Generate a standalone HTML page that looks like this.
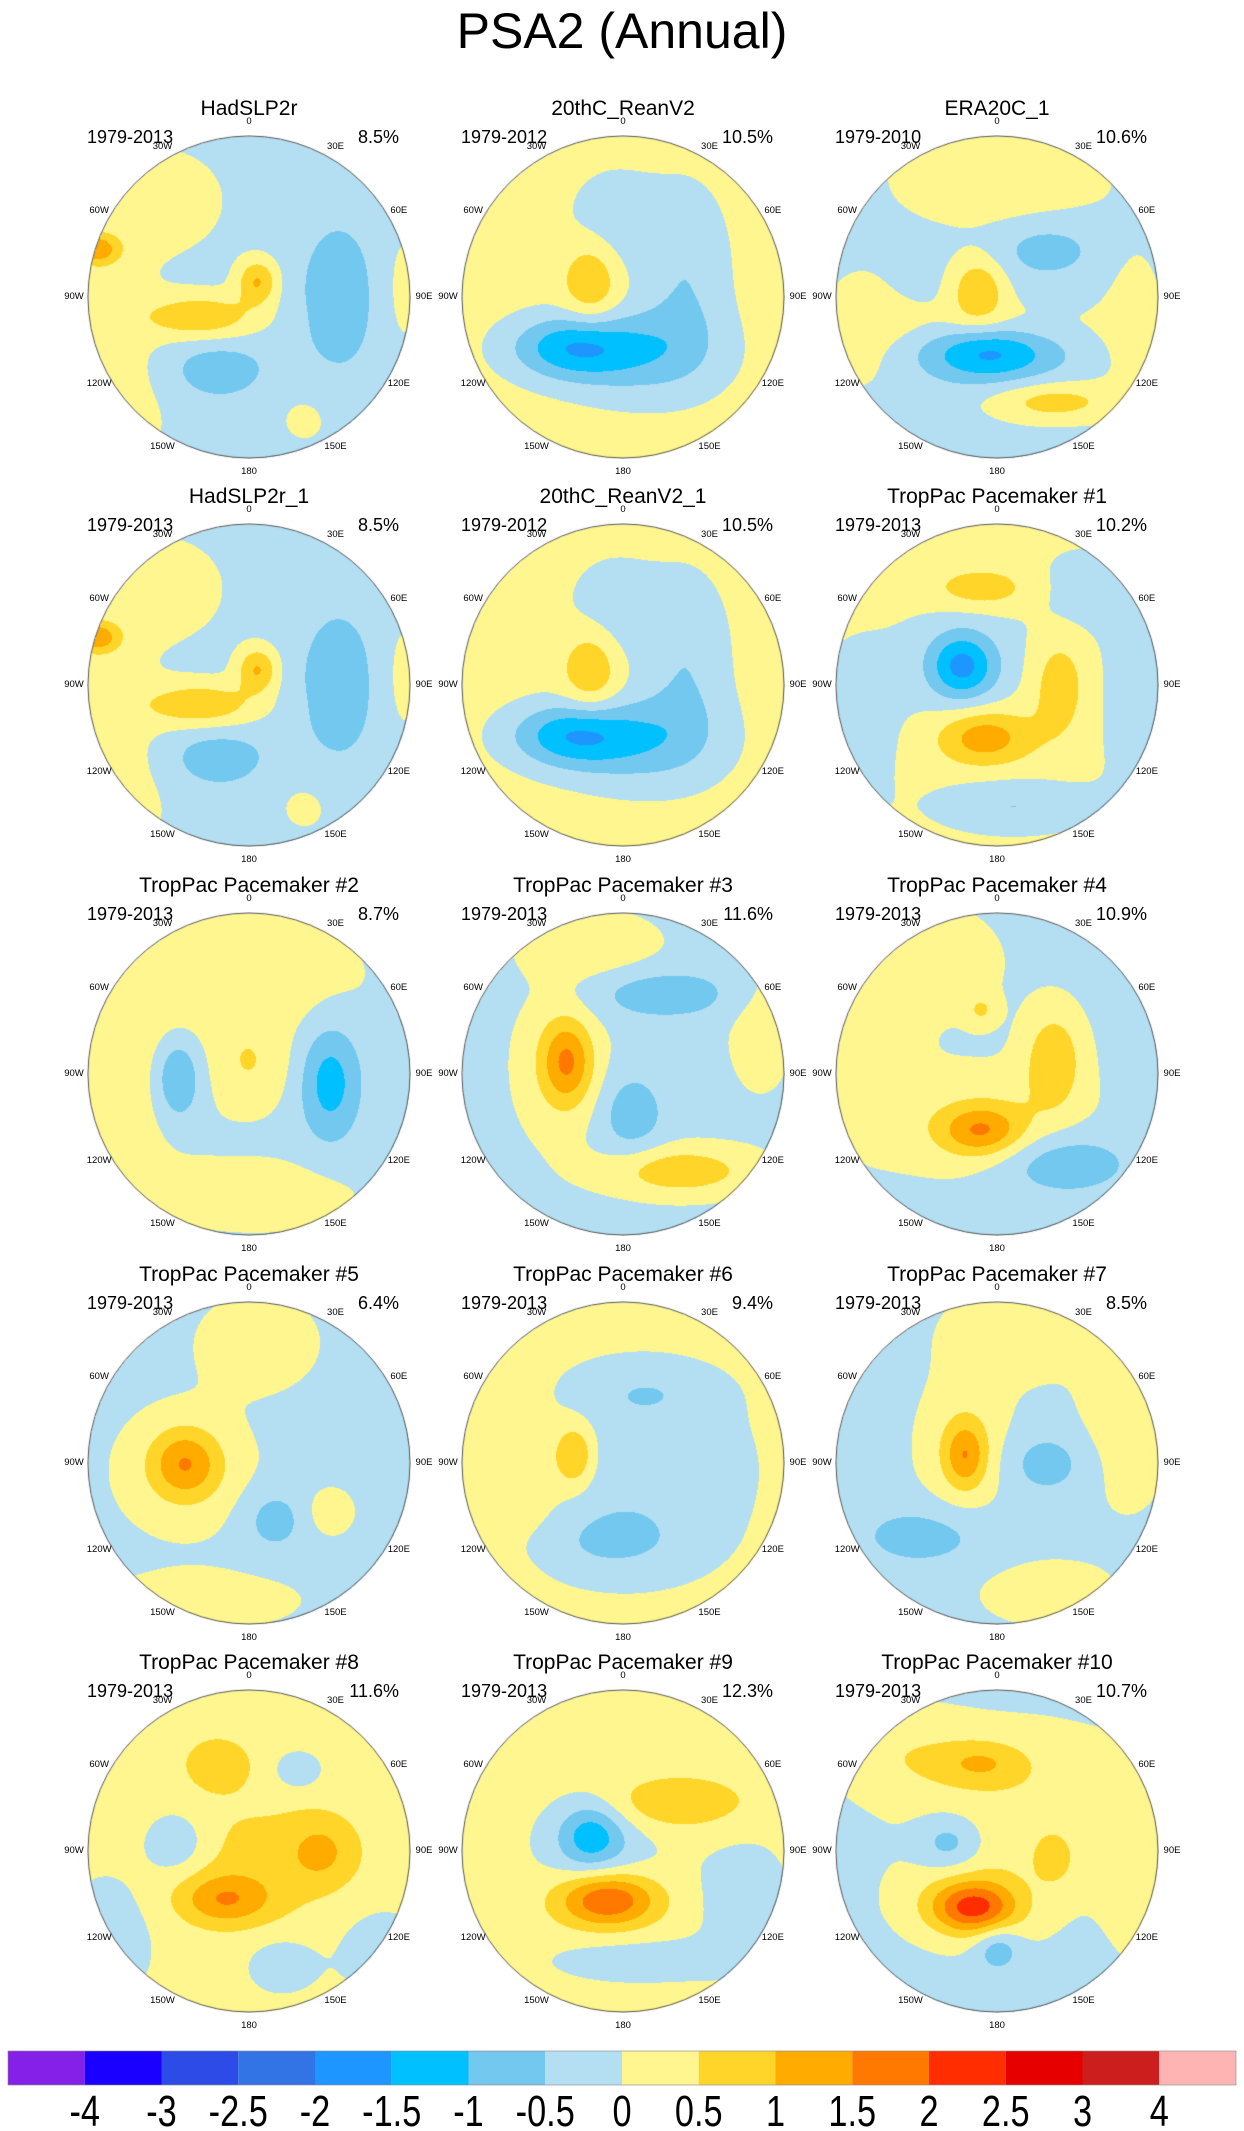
<!DOCTYPE html>
<html><head><meta charset="utf-8">
<style>
html,body{margin:0;padding:0;background:#fff;}
body{width:1244px;height:2131px;position:relative;overflow:hidden;font-family:"Liberation Sans",sans-serif;}
.t{position:absolute;white-space:nowrap;color:#000;}
canvas{position:absolute;}
</style></head>
<body>
<div class="t" style="left:0;width:1244px;text-align:center;top:2px;font-size:50px;">PSA2 (Annual)</div>
<div id="root"></div>
<svg id="cb" width="1244" height="131" style="position:absolute;left:0;top:2000px"></svg>
<script>
const panelTitles=["HadSLP2r","20thC_ReanV2","ERA20C_1","HadSLP2r_1","20thC_ReanV2_1","TropPac Pacemaker #1","TropPac Pacemaker #2","TropPac Pacemaker #3","TropPac Pacemaker #4","TropPac Pacemaker #5","TropPac Pacemaker #6","TropPac Pacemaker #7","TropPac Pacemaker #8","TropPac Pacemaker #9","TropPac Pacemaker #10"];
const panelYears=["1979-2013","1979-2012","1979-2010","1979-2013","1979-2012","1979-2013","1979-2013","1979-2013","1979-2013","1979-2013","1979-2013","1979-2013","1979-2013","1979-2013","1979-2013"];
const panelPct=["8.5%","10.5%","10.6%","8.5%","10.5%","10.2%","8.7%","11.6%","10.9%","6.4%","9.4%","8.5%","11.6%","12.3%","10.7%"];
const panelBase=[-0.2,0.2,-0.2,-0.2,0.2,0.2,-0.15,-0.15,-0.15,-0.15,0.2,-0.15,0.15,0.2,-0.15];
// blobs: [u, v, amplitude, sx, sy]
const P1=[[-0.55,-0.6,0.45,0.3,0.25],[-0.85,0.1,0.35,0.2,0.35],[-0.3,0.12,1.1,0.25,0.1],[0.05,-0.1,1.2,0.09,0.1],[0.55,0,-0.6,0.18,0.35],[-0.2,0.45,-0.6,0.22,0.13],[-0.85,0.75,0.4,0.25,0.3],[0.35,0.75,0.3,0.15,0.15],[0.95,-0.05,0.35,0.1,0.3],[-0.95,-0.3,1.4,0.1,0.07]];
const P2=[[-0.31,0.31,-1.5,0.28,0.14],[0.4,-0.2,-0.6,0.18,0.35],[0.1,0.4,-0.6,0.35,0.2],[-0.05,-0.45,-0.5,0.22,0.25],[-0.2,-0.1,0.9,0.12,0.18],[0.3,0.25,-0.4,0.25,0.2]];
const P3=[[0,-0.75,0.5,0.5,0.25],[-0.12,-0.05,1.1,0.12,0.14],[-0.05,0.35,-1.4,0.28,0.12],[0.3,-0.3,-0.6,0.22,0.12],[-0.1,0.15,0.35,0.6,0.1],[0.35,0.65,0.9,0.28,0.09],[-0.85,0.2,0.4,0.2,0.3],[0.85,0.2,0.4,0.15,0.4]];
const P6=[[-0.22,-0.12,-1.4,0.14,0.14],[-0.2,-0.15,-0.5,0.33,0.28],[-0.08,0.32,1.2,0.2,0.12],[-0.1,-0.6,0.7,0.22,0.09],[0.38,0,0.7,0.12,0.22],[0.1,0.75,-0.7,0.35,0.12],[0.9,0.1,-0.5,0.2,0.5],[0.5,-0.6,-0.4,0.2,0.2],[-0.9,0.3,-0.5,0.2,0.4]];
const P7=[[-0.1,-0.6,0.6,0.5,0.25],[-0.7,0,0.5,0.25,0.5],[-0.45,0.02,-1.1,0.11,0.2],[0.5,0.05,-1.1,0.13,0.25],[0,-0.05,0.6,0.18,0.2],[0.05,0.75,0.5,0.4,0.15]];
const P8=[[-0.35,-0.08,1.3,0.11,0.18],[-0.4,-0.05,0.5,0.2,0.35],[0.25,-0.5,-0.7,0.33,0.11],[0.05,0.25,-0.7,0.14,0.18],[0.35,0.6,1.0,0.33,0.11],[-0.2,-0.8,0.5,0.3,0.15],[0.85,-0.3,0.4,0.15,0.3]];
const P9=[[-0.5,-0.7,0.5,0.35,0.25],[-0.1,0.35,1.3,0.18,0.11],[-0.1,0.3,0.5,0.45,0.25],[0.35,-0.1,1.0,0.13,0.22],[0.4,0.55,-0.8,0.3,0.14],[-0.8,0,0.4,0.2,0.3],[-0.1,-0.4,0.6,0.07,0.07]];
const P10=[[-0.4,0,1.2,0.15,0.15],[-0.4,0.05,0.5,0.3,0.28],[0.05,-0.75,0.5,0.25,0.2],[0.15,0.35,-0.6,0.14,0.14],[0.5,0.3,0.5,0.1,0.1],[-0.3,0.85,0.5,0.4,0.12]];
const P11=[[-0.3,-0.05,1.1,0.09,0.14],[0.1,0.05,-0.6,0.5,0.45],[0.15,-0.45,-0.4,0.3,0.12],[-0.1,0.5,-0.5,0.35,0.15],[-0.55,0.1,0.3,0.15,0.3]];
const P12=[[-0.2,-0.05,1.1,0.09,0.14],[-0.2,-0.1,0.6,0.2,0.3],[0.1,-0.8,0.5,0.3,0.2],[0.8,-0.3,0.5,0.2,0.4],[-0.45,0.45,-0.6,0.3,0.14],[0.3,0,-0.6,0.2,0.14],[0.3,0.8,0.4,0.3,0.15]];
const P13=[[-0.2,-0.55,0.7,0.15,0.12],[-0.45,-0.05,-0.7,0.14,0.14],[-0.15,0.3,1.1,0.2,0.11],[0.05,0.05,0.5,0.45,0.3],[0.45,0,0.7,0.15,0.15],[0.3,-0.5,-0.6,0.1,0.08],[0.2,0.7,-0.5,0.15,0.12],[0.8,0.6,-0.4,0.2,0.2],[-0.85,0.5,-0.4,0.2,0.3]];
const P14=[[-0.2,-0.1,-1.1,0.14,0.14],[-0.15,-0.05,-0.5,0.3,0.25],[-0.1,0.3,1.9,0.22,0.12],[0.3,-0.3,0.8,0.33,0.12],[0.1,0.68,-0.5,0.4,0.1],[0.75,0.3,-0.45,0.22,0.3]];
const P15=[[-0.15,0.35,1.8,0.18,0.11],[-0.15,0.3,0.6,0.33,0.2],[-0.1,-0.55,0.8,0.2,0.1],[-0.3,-0.05,-0.8,0.14,0.12],[0.35,0.05,0.7,0.08,0.1],[0.0,0.6,-0.8,0.1,0.1],[0.2,-0.3,0.5,0.5,0.35],[-0.6,-0.6,0.5,0.3,0.2],[0.85,0.1,0.4,0.15,0.4]];
const panelBlobs=[P1,P2,P3,P1,P2,P6,P7,P8,P9,P10,P11,P12,P13,P14,P15];
const levels=[-4,-3,-2.5,-2,-1.5,-1,-0.5,0,0.5,1,1.5,2,2.5,3,4];
const levelLabels=["-4","-3","-2.5","-2","-1.5","-1","-0.5","0","0.5","1","1.5","2","2.5","3","4"];
const colors=['#8520e8','#1a00ff','#2d4be6','#3273e6','#1e96ff','#00c0ff','#73c8f0','#b4dff2','#fff68f','#ffd52a','#ffab00','#ff7800','#ff2d00','#e60000','#cd1e1e','#ffb4b4'];
const lonLabels=["0","30E","60E","90E","120E","150E","180","150W","120W","90W","60W","30W"];

const colX=[249,623,997], rowY=[297,685,1074,1463,1851], R=161;
function rgb(h){return [parseInt(h.slice(1,3),16),parseInt(h.slice(3,5),16),parseInt(h.slice(5,7),16)];}
const crgb=colors.map(rgb);
function cls(v){let i=0;while(i<levels.length&&v>=levels[i])i++;return i;}
const root=document.getElementById('root');
function txt(name,s,css){const d=document.createElement('div');d.className='t';d.textContent=s;d.style.cssText=css;


root.appendChild(d);return d;}
panelTitles.forEach((title,k)=>{
  const cx=colX[k%3], cy=rowY[Math.floor(k/3)];
  const c=document.createElement('canvas');c.width=2*R+2;c.height=2*R+2;
  c.style.left=(cx-R-1)+'px';c.style.top=(cy-R-1)+'px';
  
  
  root.appendChild(c);
  const g=c.getContext('2d');const im=g.createImageData(c.width,c.height);
  const blobs=panelBlobs[k];
  for(let y=0;y<c.height;y++)for(let x=0;x<c.width;x++){
    const u=(x-R-1)/R,v=(y-R-1)/R;if(u*u+v*v>1)continue;
    let f=panelBase[k];
    for(const b of blobs){const du=(u-b[0])/b[3],dv=(v-b[1])/b[4];f+=b[2]*Math.exp(-0.5*(du*du+dv*dv));}
    const col=crgb[cls(f)];const p=(y*c.width+x)*4;
    im.data[p]=col[0];im.data[p+1]=col[1];im.data[p+2]=col[2];im.data[p+3]=255;}
  g.putImageData(im,0,0);
  g.strokeStyle='#555';g.lineWidth=1;g.beginPath();g.arc(R+1,R+1,R,0,2*Math.PI);g.stroke();
  txt('panel-title-'+(k+1),title,`left:${cx-200}px;width:400px;text-align:center;top:${cy-200}px;font-size:21px;`);
  txt('panel-years-'+(k+1),panelYears[k],`left:${cx-162}px;top:${cy-170}px;font-size:18px;`);
  txt('panel-pct-'+(k+1),panelPct[k],`right:${1244-(cx+150)}px;top:${cy-170}px;font-size:18px;`);
  lonLabels.forEach((l,i)=>{const a=i*Math.PI/6;const rr=R+ (i%3===0?14:12);
    const lx=cx+rr*Math.sin(a), ly=cy-rr*Math.cos(a);
    txt('lon-label',l,`left:${lx-20}px;width:40px;text-align:center;top:${ly-6}px;font-size:9.5px;`);});
});
// colorbar
const svg=document.getElementById('cb');const NS='http://www.w3.org/2000/svg';
const x0=8,x1=1236,bw=(x1-x0)/colors.length;
colors.forEach((col,i)=>{const r=document.createElementNS(NS,'rect');
  r.setAttribute('x',x0+i*bw);r.setAttribute('y',51);r.setAttribute('width',bw);r.setAttribute('height',34);r.setAttribute('fill',col);
  
  
  svg.appendChild(r);});
const fr=document.createElementNS(NS,'rect');fr.setAttribute('x',x0);fr.setAttribute('y',51);fr.setAttribute('width',x1-x0);fr.setAttribute('height',34);fr.setAttribute('fill','none');fr.setAttribute('stroke','#888');fr.setAttribute('stroke-width','0.6');svg.appendChild(fr);
levelLabels.forEach((l,i)=>{const t=document.createElementNS(NS,'text');
  t.setAttribute('x',x0+(i+1)*bw);t.setAttribute('y',126);t.setAttribute('text-anchor','middle');
  t.setAttribute('font-size','44');t.setAttribute('font-family','Liberation Sans, sans-serif');
  t.setAttribute('transform',`translate(${(x0+(i+1)*bw)*0.22},0) scale(0.78,1)`);
  
  
  t.textContent=l;svg.appendChild(t);});
</script>
</body></html>
